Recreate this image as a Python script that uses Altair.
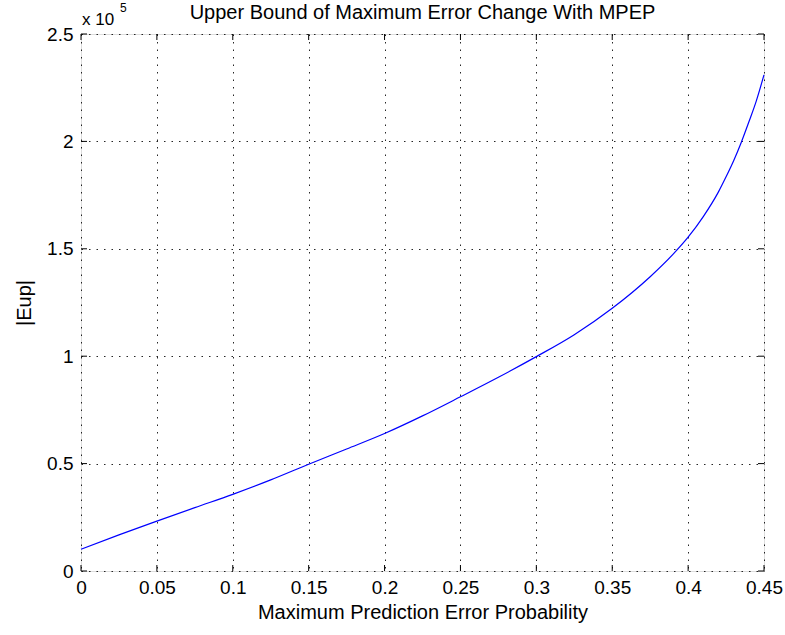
import altair as alt
import pandas as pd

# Data (|Eup| in absolute units)
mpep = [0.0, 0.025, 0.05, 0.075, 0.1, 0.125, 0.15, 0.175, 0.2, 0.225, 0.25,
        0.275, 0.3, 0.325, 0.35, 0.375, 0.39, 0.4, 0.41, 0.42, 0.425, 0.43, 0.435,
        0.44, 0.445, 0.45]
eup = [10100, 16800, 23200, 29500, 35700, 42400, 49700, 56800, 64000, 72200, 81100,
       90200, 99800, 110000, 122300, 137000, 147400, 155400, 165000, 176500, 183500,
       191000, 199500, 209000, 219000, 231000]

x_ticks = [0, 0.05, 0.1, 0.15, 0.2, 0.25, 0.3, 0.35, 0.4, 0.45]
y_ticks = [0, 50000, 100000, 150000, 200000, 250000]

W, H = 683, 537
FONT = "Liberation Sans"
TICK_FS = 19
TITLE_FS = 20

df = pd.DataFrame({"mpep": mpep, "eup": eup})
xt = pd.DataFrame({"t": x_ticks})
yt = pd.DataFrame({"t": y_ticks})

xs = alt.Scale(domain=[0, 0.45], nice=False, zero=False)
ys = alt.Scale(domain=[0, 250000], nice=False, zero=False)

line = alt.Chart(df).mark_line(color="#0000ff", strokeWidth=1.2, interpolate="monotone").encode(
    x=alt.X("mpep:Q", scale=xs,
            axis=alt.Axis(values=x_ticks, title="Maximum Prediction Error Probability",
                          format=".2~f",
                          grid=True, gridDash=[1.5, 6], gridColor="#000000", gridOpacity=0.85,
                          tickSize=0, domain=False, labelPadding=7, titlePadding=5,
                          labelFontSize=TICK_FS, titleFontSize=TITLE_FS,
                          labelColor="#000", titleColor="#000",
                          labelFont=FONT, titleFont=FONT, titleFontWeight="normal",
                          labelFlush=False)),
    y=alt.Y("eup:Q", scale=ys,
            axis=alt.Axis(values=y_ticks, title="|Eup|",
                          labelExpr="datum.value / 100000",
                          grid=True, gridDash=[1.5, 6], gridColor="#000000", gridOpacity=0.85,
                          tickSize=0, domain=False, labelPadding=8, titlePadding=12,
                          labelFontSize=TICK_FS, titleFontSize=TITLE_FS,
                          labelColor="#000", titleColor="#000",
                          labelFont=FONT, titleFont=FONT, titleFontWeight="normal",
                          labelFlush=False)),
)

tick_color = "#000000"
bottom_ticks = alt.Chart(xt).mark_rule(color=tick_color).encode(
    x=alt.X("t:Q", scale=xs), y=alt.value(H), y2=alt.value(H - 6))
top_ticks = alt.Chart(xt).mark_rule(color=tick_color).encode(
    x=alt.X("t:Q", scale=xs), y=alt.value(0), y2=alt.value(6))
left_ticks = alt.Chart(yt).mark_rule(color=tick_color).encode(
    y=alt.Y("t:Q", scale=ys), x=alt.value(0), x2=alt.value(6))
right_ticks = alt.Chart(yt).mark_rule(color=tick_color).encode(
    y=alt.Y("t:Q", scale=ys), x=alt.value(W), x2=alt.value(W - 6))

exp_text = alt.Chart(pd.DataFrame({"s": ["x 10"]})).mark_text(
    align="left", baseline="alphabetic", fontSize=17, font=FONT, color="#000").encode(
    text="s:N", x=alt.value(1), y=alt.value(-9))
exp_sup = alt.Chart(pd.DataFrame({"s": ["5"]})).mark_text(
    align="left", baseline="alphabetic", fontSize=12, font=FONT, color="#000").encode(
    text="s:N", x=alt.value(39), y=alt.value(-22))

title_text = alt.Chart(pd.DataFrame({"s": ["Upper Bound of Maximum Error Change With MPEP"]})).mark_text(
    align="center", baseline="alphabetic", fontSize=TITLE_FS, font=FONT, color="#000").encode(
    text="s:N", x=alt.value(W / 2), y=alt.value(-15))

chart = alt.layer(line, bottom_ticks, top_ticks, left_ticks, right_ticks,
                  exp_text, exp_sup, title_text).properties(
    width=W, height=H,
    autosize=alt.AutoSizeParams(type="none"),
    padding={"left": 81, "top": 34, "right": 21, "bottom": 64},
).configure_view(stroke="#000000", strokeWidth=1.2).configure(background="white")

chart.save("out.html", embed_options={"renderer": "svg", "actions": False})
